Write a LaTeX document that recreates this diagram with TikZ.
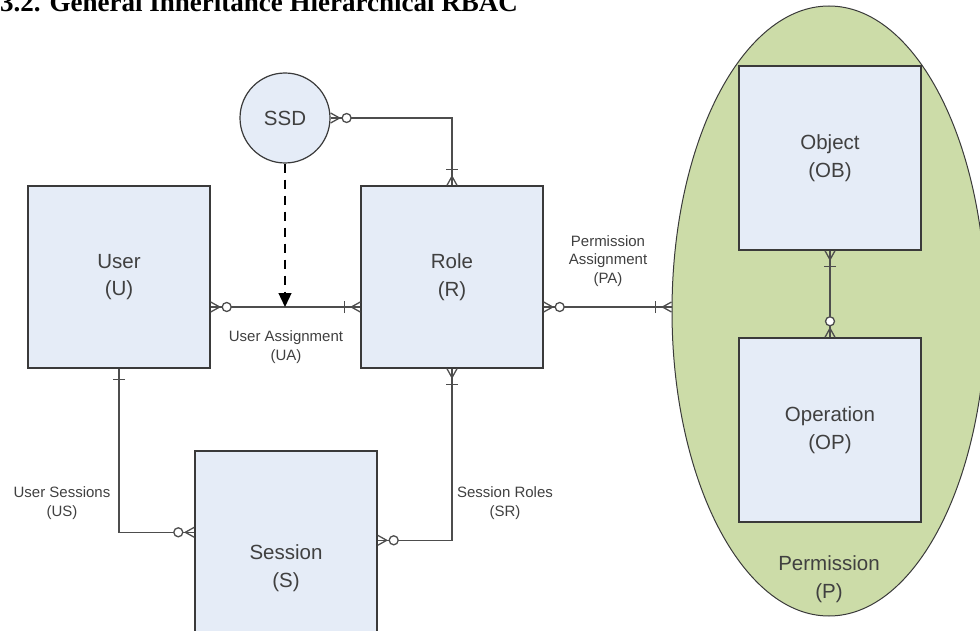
\documentclass[tikz,border=0pt]{standalone}
\usepackage{fontspec}
\setmainfont{Liberation Sans}
\newfontfamily\titlefont{Liberation Serif}
\usetikzlibrary{shapes.geometric,arrows.meta,calc}
\definecolor{boxfill}{RGB}{229,236,247}
\definecolor{permfill}{RGB}{204,220,168}
\definecolor{boxline}{RGB}{58,58,58}
\definecolor{linegray}{RGB}{77,77,77}
\definecolor{txtgray}{RGB}{64,64,64}
\tikzset{
  entity/.style={draw=boxline, fill=boxfill, line width=1.4pt, minimum width=182pt, minimum height=182pt, inner sep=0pt, align=center, text=txtgray, font=\fontsize{20.5}{27.5}\selectfont},
  lbl/.style={align=center, text=txtgray, inner sep=0pt, font=\fontsize{15}{18.5}\selectfont},
  conn/.style={draw=linegray, line width=1.3pt},
  zmany/.pic={\draw[conn] (9,0)--(0,5) (9,0)--(0,-5); \draw[conn,fill=white] (16,0) circle[radius=4.5];},
  omany/.pic={\draw[conn] (9,0)--(0,5) (9,0)--(0,-5); \draw[conn] (16,-6)--(16,6);},
  onebar/.pic={\draw[conn] (11,-6)--(11,6);}
}
\begin{document}
\begin{tikzpicture}[x=1pt,y=-1pt]
\useasboundingbox (0,0) rectangle (980,631);
\clip (0,0) rectangle (980,631);
% title (cut at the top)
\node[anchor=base west, inner sep=0pt, font=\titlefont\bfseries\fontsize{27}{30}\selectfont] (title) at (0,11.5) {3.2. General Inheritance Hierarchical RBAC};
% permission ellipse
\node[ellipse, draw=boxline, line width=1pt, fill=permfill, minimum width=314pt, minimum height=610pt, inner sep=0pt] (perm) at (829,311) {};
\node[lbl, font=\fontsize{20.5}{27.5}\selectfont] (permlbl) at (829,579) {Permission\\(P)};
% entities
\node[entity] (user) at (119,277) {User\\(U)};
\node[entity] (role) at (452,277) {Role\\(R)};
\node[entity, minimum height=234pt] (session) at (286,568) {Session\\(S)};
\node[entity, minimum height=184pt] (object) at (830,158) {Object\\(OB)};
\node[entity, minimum height=184pt] (operation) at (830,430) {Operation\\(OP)};
\node[circle, draw=boxline, line width=1.2pt, fill=boxfill, minimum size=90pt, inner sep=0pt, text=txtgray, font=\fontsize{20.5}{27.5}\selectfont] (ssd) at (285,118) {SSD};
% user assignment
\draw[conn] ($(user.east)+(0,30)$) coordinate (uaL) -- (role.west |- uaL) coordinate (uaR);
\pic at (uaL) {zmany};
\pic[rotate=180] at (uaR) {omany};
% SSD
\draw[conn] (ssd.east) -| (role.north);
\pic at (ssd.east) {zmany};
\pic[rotate=90] at (role.north) {omany};
\draw[draw=black, line width=1.3pt, dash pattern=on 9pt off 7pt, -{Triangle[length=14pt,width=13pt]}] (ssd.south) -- (ssd.south |- uaL);
% permission assignment
\draw[conn] ($(role.east)+(0,30)$) coordinate (paL) -- (perm.west |- paL) coordinate (paR);
\pic at (paL) {zmany};
\pic[rotate=180] at (paR) {omany};
% object - operation
\draw[conn] (object.south) -- (operation.north);
\pic[rotate=-90] at (object.south) {omany};
\pic[rotate=90] at (operation.north) {zmany};
% user sessions
\draw[conn] (user.south) |- ($(session.north west)+(0,82)$) coordinate (usE);
\pic[rotate=-90] at (user.south) {onebar};
\pic[rotate=180] at (usE) {zmany};
% session roles
\draw[conn] (role.south) |- ($(session.north east)+(0,90)$) coordinate (srE);
\pic[rotate=-90] at (role.south) {omany};
\pic at (srE) {zmany};
% labels
\node[lbl] (ualbl) at (286,347) {User Assignment\\(UA)};
\node[lbl] (palbl) at (608,261) {Permission\\Assignment\\(PA)};
\node[lbl] (uslbl) at (62,503) {User Sessions\\(US)};
\node[lbl] (srlbl) at (505,503) {Session Roles\\(SR)};
\end{tikzpicture}
\end{document}
